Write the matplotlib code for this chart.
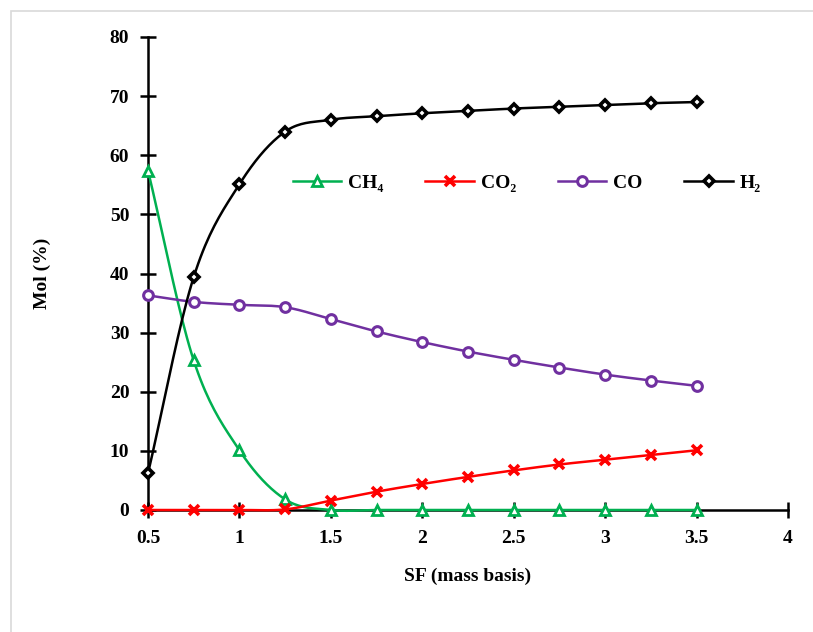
import numpy as np
import matplotlib
matplotlib.use("Agg")
import matplotlib.pyplot as plt
from matplotlib.patches import Rectangle

# ---- data ----
sf = [0.5, 0.75, 1.0, 1.25, 1.5, 1.75, 2.0, 2.25, 2.5, 2.75, 3.0, 3.25, 3.5]
ch4 = [57.4, 25.3, 10.1, 1.8, 0, 0, 0, 0, 0, 0, 0, 0, 0]
co2 = [0, 0, 0, 0.1, 1.6, 3.1, 4.4, 5.6, 6.7, 7.7, 8.5, 9.3, 10.1]
co = [36.3, 35.2, 34.7, 34.3, 32.3, 30.2, 28.4, 26.8, 25.4, 24.1, 22.9, 21.9, 21.0]
h2 = [6.2, 39.4, 55.1, 64.0, 66.0, 66.6, 67.1, 67.5, 67.9, 68.2, 68.5, 68.8, 69.0]
labels = ["CH\u2084", "CO\u2082", "CO", "H\u2082"]
xticks = [0.5, 1, 1.5, 2, 2.5, 3, 3.5, 4]
xticklabels = ["0.5", "1", "1.5", "2", "2.5", "3", "3.5", "4"]
yticks = [0, 10, 20, 30, 40, 50, 60, 70, 80]


def smooth(x, y, n=20):
    """Catmull-Rom smoothing (like Excel's smoothed line)."""
    x = np.asarray(x, float)
    y = np.asarray(y, float)
    px = np.concatenate([[2 * x[0] - x[1]], x, [2 * x[-1] - x[-2]]])
    py = np.concatenate([[2 * y[0] - y[1]], y, [2 * y[-1] - y[-2]]])
    xs, ys = [], []
    t = np.linspace(0, 1, n, endpoint=False)
    for i in range(1, len(px) - 2):
        for arr, out in ((px, xs), (py, ys)):
            p0, p1, p2, p3 = arr[i - 1], arr[i], arr[i + 1], arr[i + 2]
            out.extend(0.5 * ((2 * p1) + (-p0 + p2) * t
                              + (2 * p0 - 5 * p1 + 4 * p2 - p3) * t ** 2
                              + (-p0 + 3 * p1 - 3 * p2 + p3) * t ** 3))
    xs.append(x[-1])
    ys.append(y[-1])
    return np.array(xs), np.array(ys)


FONT = ["Liberation Serif", "DejaVu Serif"]
plt.rcParams["font.family"] = FONT
plt.rcParams["font.weight"] = "bold"
FS = 14

fig = plt.figure(figsize=(8.13, 6.32), dpi=100)
fig.patches.append(Rectangle((11 / 813, -0.1), 1.2, 1 - 11 / 632 + 0.1,
                             transform=fig.transFigure, fill=False,
                             edgecolor="#d9d9d9", linewidth=1.2))
ax = fig.add_axes([148 / 813, 1 - 510 / 632, (788 - 148) / 813, (510 - 37) / 632])

series = [
    (ch4, "#00b050", "^", 7.0, 2.0),
    (co2, "#ff0000", "x", 6.5, 2.6),
    (co, "#7030a0", "o", 7.0, 2.2),
    (h2, "#000000", "D", 5.5, 2.6),
]
handles = []
for (vals, col, mk, ms, mew), lab in zip(series, labels):
    xs, ys = smooth(sf, vals)
    ax.plot(xs, ys, color=col, lw=1.8, zorder=3, clip_on=False)
    ax.plot(sf, vals, linestyle="none", marker=mk, ms=ms, mfc="white",
            mec=col, mew=mew, zorder=4, clip_on=False)
    h, = ax.plot([], [], color=col, lw=1.8, marker=mk, ms=ms, mfc="white",
                 mec=col, mew=mew)
    handles.append(h)

ax.set_xlim(0.5, 4)
ax.set_ylim(0, 80)
ax.set_xticks(xticks)
ax.set_xticklabels(xticklabels)
ax.set_yticks(yticks)
for s in ("top", "right"):
    ax.spines[s].set_visible(False)
for s in ("left", "bottom"):
    ax.spines[s].set_linewidth(1.8)
ax.spines["bottom"].set_zorder(2)
ax.tick_params(direction="inout", length=11, width=1.8, labelsize=FS)
ax.tick_params(axis="x", pad=9)
ax.tick_params(axis="y", pad=8)
for lbl in ax.get_xticklabels() + ax.get_yticklabels():
    lbl.set_fontweight("bold")
ax.patch.set_visible(False)

ax.set_xlabel("SF (mass basis)", fontsize=FS, fontweight="bold", labelpad=15)
ax.set_ylabel("Mol (%)", fontsize=FS, fontweight="bold", labelpad=42)

fig.legend(handles, labels, loc="center", bbox_to_anchor=(0.648, 1 - 183 / 632),
           ncol=4, frameon=False, handlelength=2.5,
           handletextpad=0.35, columnspacing=2.15,
           prop={"family": FONT, "weight": "bold", "size": FS})

fig.savefig("out.png", dpi=100)
